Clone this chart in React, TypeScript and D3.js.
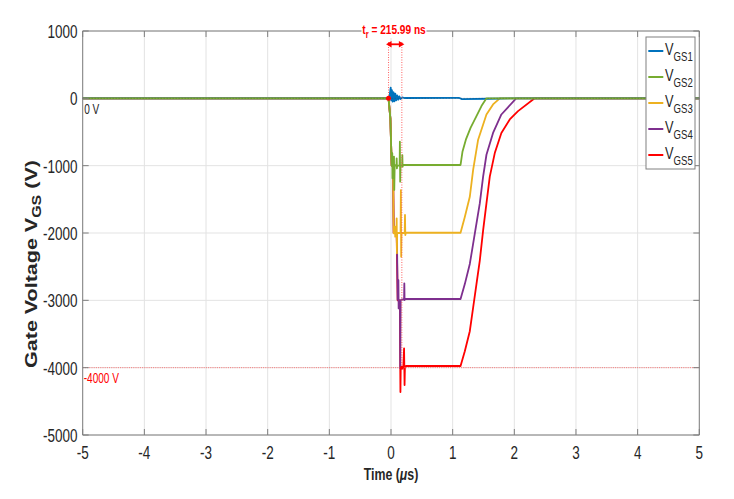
import React from 'react';
import * as d3 from 'd3';

type Pt = [number, number];

const xTicks = [-5, -4, -3, -2, -1, 0, 1, 2, 3, 4, 5];
const xTickLabels = ['-5', '-4', '-3', '-2', '-1', '0', '1', '2', '3', '4', '5'];
const yTicks = [1000, 0, -1000, -2000, -3000, -4000, -5000];
const yTickLabels = ['1000', '0', '-1000', '-2000', '-3000', '-4000', '-5000'];

const seriesSubs = ['GS1', 'GS2', 'GS3', 'GS4', 'GS5'];
const seriesColors = ['#0072BD', '#77AC30', '#EDB120', '#7E2F8E', '#FF0000'];

const vgs1: Pt[] = [
  [-5, 0], [-0.04, 0], [-0.02, 50], [-0.005, 160], [0.005, -30], [0.015, 120], [0.028, -50],
  [0.042, 90], [0.056, -45], [0.07, 70], [0.085, -30], [0.1, 45], [0.118, -20], [0.135, 30],
  [0.155, -10], [0.18, 15], [0.22, 5], [1.1, 8], [1.15, -12], [1.6, -6], [2.0, 0], [5, 0],
];
const vgs2: Pt[] = [
  [-5, 0], [-0.04, 0], [-0.01, -300], [0.011, -1000], [0.018, -1000], [0.021, -815], [0.024, -1187],
  [0.03, -1000], [0.045, -1000], [0.049, -867], [0.053, -1360], [0.06, -990], [0.088, -1000],
  [0.092, -891], [0.096, -1040], [0.1, -995], [0.14, -1000], [0.144, -644], [0.149, -1238],
  [0.155, -1000], [0.18, -1000], [0.184, -842], [0.188, -1015], [0.195, -990], [1.128, -990],
  [1.16, -789], [1.214, -614], [1.29, -439], [1.386, -265], [1.467, -115], [1.548, 0], [5, 0],
];
const vgs3: Pt[] = [
  [-5, 0], [-0.04, 0], [-0.01, -300], [0.011, -1000], [0.033, -1000], [0.037, -1362], [0.04, -1758],
  [0.044, -2005], [0.06, -2000], [0.065, -1907], [0.068, -2055], [0.075, -2000], [0.088, -2000],
  [0.092, -1782], [0.096, -2302], [0.1, -2000], [0.155, -2000], [0.16, -1362], [0.165, -2352],
  [0.17, -2000], [0.222, -2000], [0.227, -1733], [0.232, -2030], [0.24, -1996], [1.128, -1996],
  [1.197, -1761], [1.278, -1462], [1.332, -1063], [1.413, -614], [1.548, -240], [1.655, -90],
  [1.764, 0], [5, 0],
];
const vgs4: Pt[] = [
  [-5, 0], [-0.04, 0], [-0.01, -300], [0.011, -1000], [0.033, -1000], [0.044, -2000], [0.092, -2000],
  [0.1, -2330], [0.108, -2990], [0.118, -2990], [0.12, -2700], [0.124, -3120], [0.13, -3000],
  [0.145, -3000], [0.15, -4010], [0.157, -3000], [0.175, -2985], [0.212, -2990], [0.216, -2748],
  [0.22, -2995], [0.23, -2980], [1.128, -2980], [1.197, -2759], [1.278, -2460], [1.359, -2010],
  [1.44, -1561], [1.494, -1163], [1.548, -838], [1.655, -514], [1.79, -240], [2.03, 0], [5, 0],
];
const vgs5: Pt[] = [
  [-5, 0], [-0.04, 0], [-0.01, -300], [0.011, -1000], [0.033, -1000], [0.044, -2000], [0.092, -2000],
  [0.108, -3000], [0.145, -3000], [0.15, -4000], [0.153, -4362], [0.158, -3990], [0.2, -3985],
  [0.212, -3713], [0.22, -4258], [0.226, -3980], [0.25, -3975], [1.128, -3975], [1.197, -3757],
  [1.278, -3458], [1.332, -3109], [1.386, -2759], [1.44, -2410], [1.494, -1961], [1.548, -1561],
  [1.602, -1163], [1.683, -813], [1.79, -514], [1.926, -314], [2.06, -190], [2.33, 0], [5, 0],
];
const seriesData = [vgs1, vgs2, vgs3, vgs4, vgs5];
const drawOrder = [4, 3, 2, 0, 1];

const trStart = -0.04;
const trValue = 0.21599; // µs
const trLabel = '215.99 ns';
const refLevel = -4000;

const FONT = '"Liberation Sans", Arial, Helvetica, sans-serif';
const SX = 0.75;

function SText(props: {
  x: number; y: number; anchor?: string; size: number; weight?: string | number;
  fill?: string; sx?: number; children: React.ReactNode;
}) {
  const { x, y, anchor = 'start', size, weight = 'normal', fill = '#262626', sx = SX, children } = props;
  return (
    <g transform={`translate(${x},${y}) scale(${sx},1)`}>
      <text textAnchor={anchor as any} fontSize={size} fontWeight={weight} fill={fill} fontFamily={FONT}>
        {children}
      </text>
    </g>
  );
}

export default function App() {
  const W = 734, H = 499;
  const L = 82.7, R = 699.3, T = 31, B = 435;
  const x = d3.scaleLinear().domain([-5, 5]).range([L, R]);
  const y = d3.scaleLinear().domain([-5000, 1000]).range([B, T]);
  const line = d3.line<Pt>().x(d => x(d[0])).y(d => y(d[1]));
  const axisColor = '#7f7f7f';
  const gridColor = '#e3e3e3';
  const tickLen = 6;

  const t1 = trStart, t2 = trStart + trValue;
  const xa = x(t1), xb = x(t2);
  const arrowY = 44.3;

  return (
    <svg width={W} height={H} style={{ position: 'absolute', left: 0, top: 0, background: '#fff' }}>
      <rect x={0} y={0} width={W} height={H} fill="#fff" />
      {/* grid */}
      {xTicks.map(t => (
        <line key={'gx' + t} x1={x(t)} x2={x(t)} y1={T} y2={B} stroke={gridColor} strokeWidth={1} />
      ))}
      {yTicks.map(v => (
        <line key={'gy' + v} x1={L} x2={R} y1={y(v)} y2={y(v)} stroke={gridColor} strokeWidth={1} />
      ))}

      {/* series */}
      {drawOrder.map(i => (
        <path key={'s' + i} d={line(seriesData[i]) || ''} fill="none" stroke={seriesColors[i]}
          strokeWidth={1.8} strokeLinejoin="round" />
      ))}

      {/* reference lines */}
      <line x1={L} x2={R} y1={y(0)} y2={y(0)} stroke="#333" strokeOpacity={0.35} strokeWidth={1}
        strokeDasharray="1,2" />
      <line x1={L} x2={R} y1={y(refLevel)} y2={y(refLevel)} stroke="#ff5555" strokeOpacity={0.8}
        strokeWidth={1} strokeDasharray="1,1.2" />
      <SText x={L + 1.5} y={y(0) + 16} size={14} sx={0.72} fill="#262626">0 V</SText>
      <SText x={L + 1} y={y(refLevel) + 15.5} size={14} sx={0.72} fill="#ff0000">-4000 V</SText>

      {/* box / axes */}
      <line x1={L} x2={R} y1={T} y2={T} stroke={axisColor} strokeWidth={1} />
      <line x1={R} x2={R} y1={T} y2={B} stroke={axisColor} strokeWidth={1} />
      <line x1={L} x2={L} y1={T} y2={B} stroke={axisColor} strokeWidth={1} />
      <line x1={L} x2={R} y1={B} y2={B} stroke={axisColor} strokeWidth={1} />
      {xTicks.map(t => (
        <g key={'tx' + t}>
          <line x1={x(t)} x2={x(t)} y1={B} y2={B - tickLen} stroke={axisColor} />
          <line x1={x(t)} x2={x(t)} y1={T} y2={T + tickLen} stroke={axisColor} />
        </g>
      ))}
      {yTicks.map(v => (
        <g key={'ty' + v}>
          <line x1={L} x2={L + tickLen} y1={y(v)} y2={y(v)} stroke={axisColor} />
          <line x1={R} x2={R - tickLen} y1={y(v)} y2={y(v)} stroke={axisColor} />
        </g>
      ))}
      {xTicks.map((t, i) => (
        <SText key={'lx' + t} x={x(t)} y={459} anchor="middle" size={18}>{xTickLabels[i]}</SText>
      ))}
      {yTicks.map((v, i) => (
        <SText key={'ly' + v} x={77.5} y={y(v) + 7} anchor="end" size={18}>{yTickLabels[i]}</SText>
      ))}

      {/* axis labels */}
      <SText x={391} y={480} anchor="middle" size={16.5} weight="bold">
        Time (<tspan fontStyle="italic">μ</tspan>s)
      </SText>
      <g transform={`translate(37,264) scale(${SX},1) rotate(-90)`}>
        <text textAnchor="middle" fontSize={21.5} fontWeight="bold" fill="#262626" fontFamily={FONT}>
          Gate Voltage V<tspan fontSize={16} dy={5}>GS</tspan><tspan dy={-5}> (V)</tspan>
        </text>
      </g>

      {/* legend */}
      <rect x={646} y={37} width={49} height={132} fill="#fff" stroke="#808080" strokeWidth={1} />
      {seriesSubs.map((s, i) => {
        const ly = 51 + i * 26;
        return (
          <g key={'lg' + i}>
            <line x1={648.3} x2={663.3} y1={ly} y2={ly} stroke={seriesColors[i]} strokeWidth={2} />
            <SText x={665} y={ly + 3.5} size={16} sx={0.8}>
              V<tspan fontSize={12} dy={6.5}>{s}</tspan>
            </SText>
          </g>
        );
      })}

      {/* rise-time annotation */}
      <line x1={xa} x2={xa} y1={42} y2={y(0)} stroke="#ff5050" strokeWidth={0.9} strokeDasharray="1,1.5" />
      <line x1={xb} x2={xb} y1={42} y2={y(refLevel)} stroke="#ff5050" strokeWidth={0.9} strokeDasharray="1,1.5" />
      <circle cx={xa} cy={y(0)} r={2.5} fill="#ff0000" />
      <circle cx={xb} cy={y(refLevel)} r={2} fill="#ff0000" />
      <line x1={xa + 1} x2={xb - 1} y1={arrowY} y2={arrowY} stroke="#ff0000" strokeWidth={1.8} />
      <path d={`M${xa - 2.5},${arrowY} L${xa + 3},${arrowY - 3.2} L${xa + 3},${arrowY + 3.2} Z`} fill="#ff0000" />
      <path d={`M${xb + 2.5},${arrowY} L${xb - 3},${arrowY - 3.2} L${xb - 3},${arrowY + 3.2} Z`} fill="#ff0000" />
      <rect x={361.5} y={23} width={65} height={15} fill="#fff" />
      <SText x={394} y={33.5} anchor="middle" size={13.5} weight="bold" fill="#ff0000">
        t<tspan fontSize={10} dy={4.5}>r</tspan><tspan dy={-4.5}> = {trLabel}</tspan>
      </SText>
    </svg>
  );
}
